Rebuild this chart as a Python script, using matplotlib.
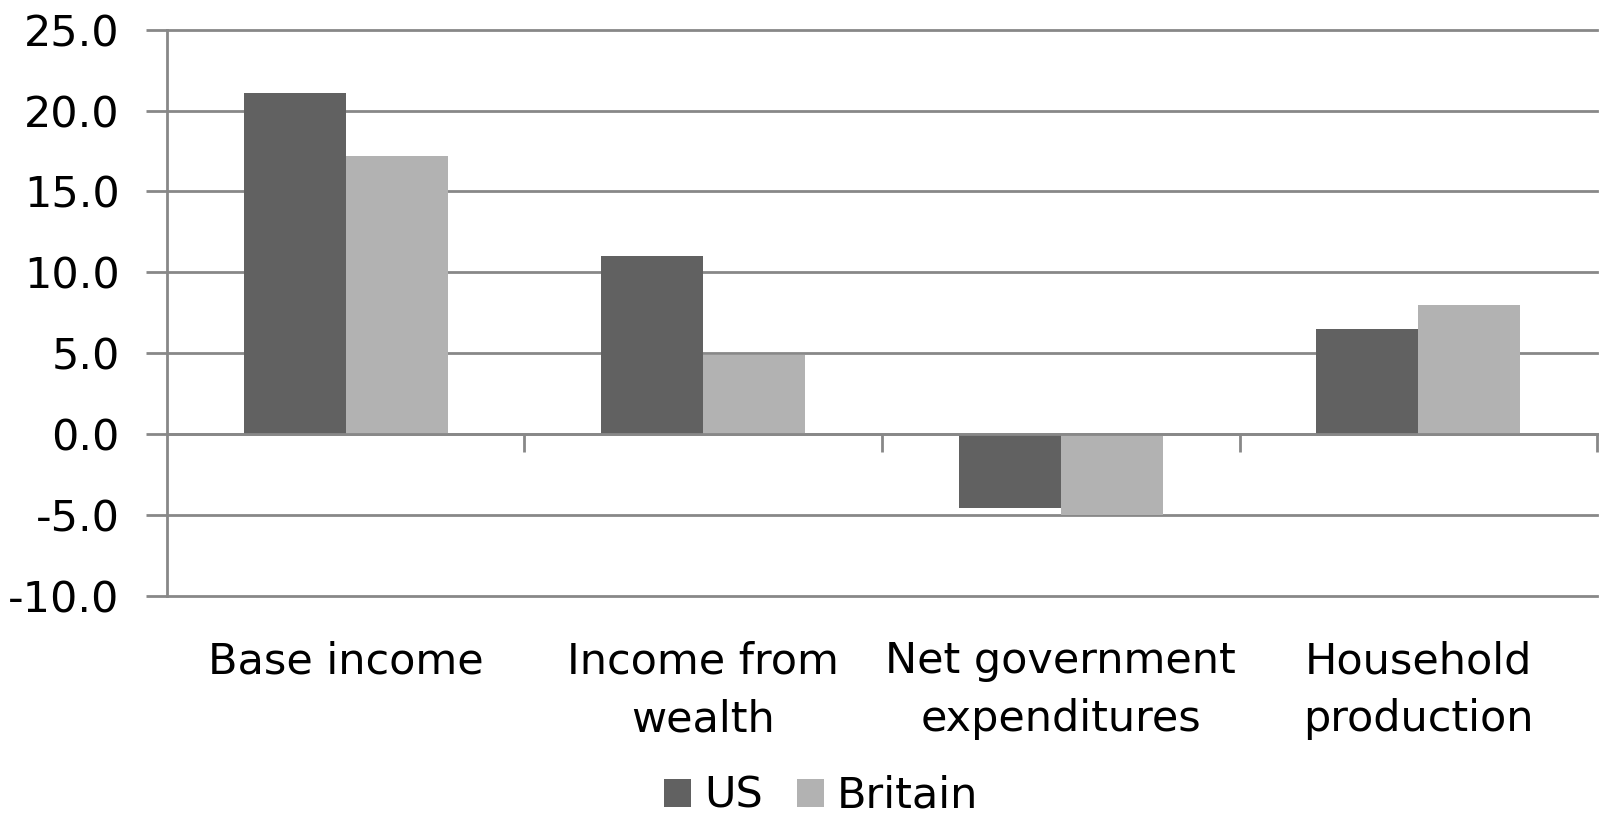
import numpy as np
import matplotlib.pyplot as plt

categories = ['Base income', 'Income from\nwealth', 'Net government\nexpenditures', 'Household\nproduction']
us = [21.1, 11.0, -4.6, 6.5]
britain = [17.2, 4.9, -5.0, 8.0]
yticks = [-10, -5, 0, 5, 10, 15, 20, 25]

plt.rcParams['font.family'] = ['DejaVu Sans']
grid_col = '#888888'
fs = 31

fig = plt.figure(figsize=(16.07, 8.17), dpi=100)
ax = fig.add_axes([0.1039, 0.2711, 0.8899, 0.6925])

x = np.arange(len(categories))
w = 1 / 3.5
b1 = ax.bar(x - w / 2, us, w, color='#616161', label='US', zorder=3)
b2 = ax.bar(x + w / 2, britain, w, color='#b2b2b2', label='Britain', zorder=3)

ax.set_xlim(-0.5, len(categories) - 0.5)
ax.set_ylim(-10, 25)
ax.set_yticks(yticks)
ax.set_yticklabels([f'{v:.1f}' for v in yticks], fontsize=fs)
ax.yaxis.grid(True, color=grid_col, linewidth=2, zorder=0, clip_on=False)
ax.tick_params(axis='y', length=15, width=2, color=grid_col, pad=19)

# ticks mark the group boundaries; names are written under each group
ax.set_xticks(np.arange(0.5, len(categories), 1.0))
ax.set_xticklabels([])
ax.tick_params(axis='x', length=13, width=2, color=grid_col)
for xi, name in zip(x, categories):
    ax.text(xi, -0.079, name, transform=ax.get_xaxis_transform(), ha='center', va='top',
            fontsize=fs, linespacing=1.49)

for s in ['top', 'right']:
    ax.spines[s].set_visible(False)
ax.spines['bottom'].set_position(('data', 0))
ax.spines['bottom'].set_color(grid_col)
ax.spines['bottom'].set_linewidth(2)
ax.spines['bottom'].set_zorder(4)
ax.spines['left'].set_color(grid_col)
ax.spines['left'].set_linewidth(2)

fig.legend(handles=[b1, b2], loc='center', bbox_to_anchor=(0.511, 0.026), ncol=2,
           frameon=False, fontsize=fs, handlelength=0.63, handleheight=0.63,
           handletextpad=0.3, columnspacing=0.8)

fig.savefig('out.png', dpi=100)
